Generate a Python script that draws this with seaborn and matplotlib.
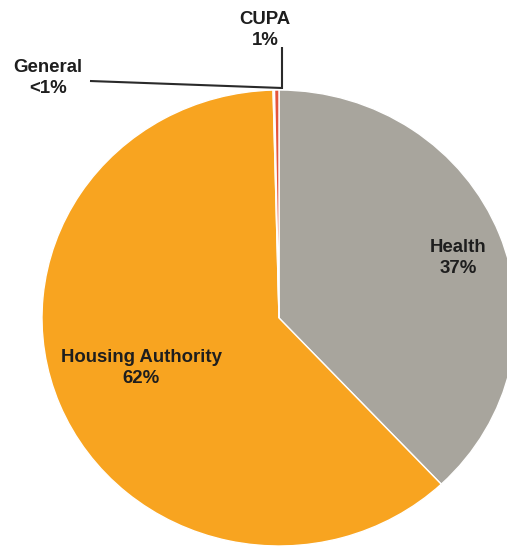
import matplotlib
matplotlib.use("Agg")
import matplotlib.pyplot as plt
import seaborn as sns

# Data (shares, labels as printed)
categories = ["Health", "Housing Authority", "General", "CUPA"]
shares = [38.0, 61.6, 0.1, 0.3]
pct_labels = ["37%", "62%", "<1%", "1%"]
colors = ["#A8A59D", "#F8A420", "#F2EFE8", "#E4553C"]

sns.set_theme(style="white")
plt.rcParams["font.family"] = ["Liberation Sans", "DejaVu Sans"]

W, H = 507, 552
fig = plt.figure(figsize=(W / 100, H / 100), dpi=100)
ax = fig.add_axes([0, 0, 1, 1])

CX, CY, RX, RY = 279, 318, 237, 228


def px(x, y):
    return (x - CX) / RX, (CY - y) / RY


ax.pie(shares, colors=colors, startangle=90, counterclock=False,
       radius=1.0, center=(0, 0),
       wedgeprops=dict(edgecolor="white", linewidth=1.0))
ax.set_aspect("auto")
ax.set_xlim(-CX / RX, (W - CX) / RX)
ax.set_ylim(-(H - CY) / RY, CY / RY)
ax.axis("off")

txt = dict(fontsize=13.4, fontweight="bold", color="#1e1e1e",
           ha="center", va="center", linespacing=1.32)

ax.text(*px(458, 258), f"{categories[0]}\n{pct_labels[0]}", **txt)
ax.text(*px(141, 368), f"{categories[1]}\n{pct_labels[1]}", **txt)
ax.text(*px(48, 78), f"{categories[2]}\n{pct_labels[2]}", **txt)
ax.text(*px(265, 30), f"{categories[3]}\n{pct_labels[3]}", **txt)

# leader lines
line_kw = dict(color="#2a2a2a", linewidth=1.5, solid_capstyle="butt")
x0, y0 = px(90, 81)
x1, y1 = px(282, 88)
ax.plot([x0, x1], [y0, y1], **line_kw)
x0, y0 = px(282, 47)
x1, y1 = px(282, 89)
ax.plot([x0, x1], [y0, y1], **line_kw)

fig.savefig("out.png", dpi=100, facecolor="white")
